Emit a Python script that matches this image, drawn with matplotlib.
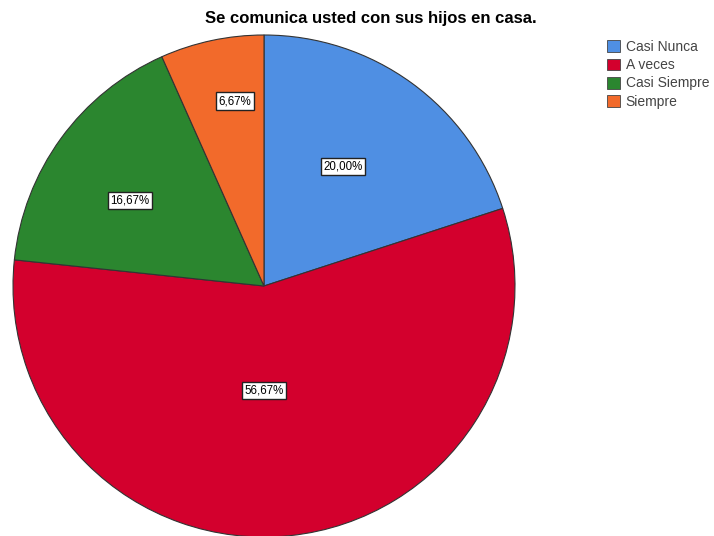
import matplotlib
matplotlib.use("Agg")
import matplotlib.pyplot as plt
import numpy as np
from matplotlib.patches import Patch

categories = ["Casi Nunca", "A veces", "Casi Siempre", "Siempre"]
percentages = [20.00, 56.67, 16.67, 6.67]
labels = ["20,00%", "56,67%", "16,67%", "6,67%"]
colors = ["#4f8fe3", "#d3002d", "#2b862f", "#f26a2b"]
label_radius = [0.572, 0.418, 0.634, 0.746]
label_angle_shift = [2.6, -6.0, 3.3, -3.1]

plt.rcParams['font.family'] = ['Liberation Sans', 'DejaVu Sans']

fig = plt.figure(figsize=(7.14, 5.36), dpi=100)
ax = fig.add_axes([13/714, -1/536, 502/714, 502/536])
wedges, _ = ax.pie(percentages, colors=colors, startangle=90, counterclock=False,
                   wedgeprops=dict(edgecolor="#333333", linewidth=0.8))
ax.set_xlim(-1, 1)
ax.set_ylim(-1, 1)
ax.set_aspect('equal')

for w, lab, r, da in zip(wedges, labels, label_radius, label_angle_shift):
    ang = np.deg2rad((w.theta1 + w.theta2) / 2 + da)
    ax.text(r*np.cos(ang), r*np.sin(ang), lab, ha='center', va='center', fontsize=8.3,
            bbox=dict(boxstyle='square,pad=0.22', facecolor='white', edgecolor='#222222', linewidth=1.0))

fig.text(371/714, 1 - 18/536, "Se comunica usted con sus hijos en casa.", ha='center', va='center',
         fontsize=12, fontweight='bold')

handles = [Patch(facecolor=c, edgecolor='#444444', linewidth=0.6, label=l) for c, l in zip(colors, categories)]
fig.legend(handles=handles, loc='upper left', bbox_to_anchor=(605/714, 1 - 38/536), frameon=False,
           fontsize=10, handlelength=0.94, handleheight=0.94, handletextpad=0.4, labelspacing=0.3,
           borderaxespad=0, borderpad=0.15, labelcolor='#444444')

fig.savefig("out.png", dpi=100)
